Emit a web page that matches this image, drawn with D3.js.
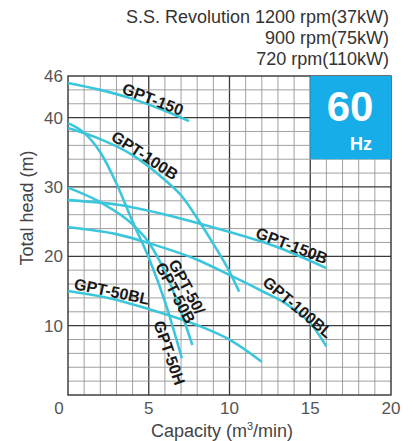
<!DOCTYPE html>
<html><head><meta charset="utf-8">
<script src="https://cdn.jsdelivr.net/npm/d3@7"></script>
<style>body{margin:0;background:#fff}svg{display:block}text{font-family:"Liberation Sans",Arial,sans-serif}</style>
</head><body><svg id="c" width="413" height="441"></svg>
<script>
const titleLines = ["S.S. Revolution 1200 rpm(37kW)", "900 rpm(75kW)", "720 rpm(110kW)"];
const yTicks = [46, 40, 30, 20, 10];
const xTicks = [5, 10, 15, 20];
const seriesNames = ["GPT-150", "GPT-100B", "GPT-150B", "GPT-100BL", "GPT-50BL", "GPT-50/50B", "GPT-50H"];
const gpt150 = [[0,45],[2,44],[4,42.7],[6,41],[7.5,39.5]];
const gpt100B = [[0,38.5],[2,36.9],[4,34.6],[6,31],[7,28.8],[8,25.5],[9,21.8],[10,17.8],[10.6,14.9]];
const gpt150B = [[0,28.1],[3.2,27.4],[6.9,25.5],[9.4,23.9],[13.1,21.2],[16,18.3]];
const gpt100BL = [[0,24.2],[3,23.2],[5,21.9],[8,19.5],[10,17.3],[12,15],[13.6,13],[15.2,9.8],[16,7]];
const gpt50BL = [[0,15],[2.5,14],[5,12.4],[8.2,9.9],[10,8],[12,4.8]];
const gpt50 = [[0,29.9],[2,27.8],[4,24.6],[5,22],[6,17.8],[7,12],[7.7,7.2]];
const gpt50H = [[0,39.2],[1,37.8],[2,35],[3,30.5],[4,25],[5,19.8],[6,13.5],[7.05,5.3]];
const series = [gpt150, gpt100B, gpt150B, gpt100BL, gpt50BL, gpt50, gpt50H];
const labels = [
  {t:["GPT-150"], x:5.26, y:42.7, r:21},
  {t:["GPT-100B"], x:4.77, y:34.6, r:33},
  {t:["GPT-150B"], x:13.87, y:21.6, r:21},
  {t:["GPT-100BL"], x:14.24, y:12.7, r:40},
  {t:["GPT-50BL"], x:2.72, y:15.0, r:12},
  {t:["GPT-50/","GPT-50B"], x:7.0, y:15.15, r:62},
  {t:["GPT-50H"], x:6.3, y:6.1, r:71}
];
const hzBox = {x0:15, x1:20, y0:34, y1:46};

const svg = d3.select("#c");
const m = {l:68, r:391, t:76, b:395};
const x = d3.scaleLinear().domain([0,20]).range([m.l, m.r]);
const y = d3.scaleLinear().domain([0,46]).range([m.b, m.t]);

// grid
const g = svg.append("g");
d3.range(1,20).forEach(v => {
  g.append("line").attr("x1",x(v)).attr("x2",x(v)).attr("y1",y(0)).attr("y2",y(46))
   .attr("stroke", v%5===0 ? "#3a3a3a" : "#969696").attr("stroke-width", v%5===0?1.3:0.9);
});
d3.range(2,46,2).forEach(v => {
  g.append("line").attr("y1",y(v)).attr("y2",y(v)).attr("x1",x(0)).attr("x2",x(20))
   .attr("stroke", v%10===0 ? "#3a3a3a" : "#969696").attr("stroke-width", v%10===0?1.3:0.9);
});
g.append("rect").attr("x",x(0)).attr("y",y(46)).attr("width",x(20)-x(0)).attr("height",y(0)-y(46))
 .attr("fill","none").attr("stroke","#333").attr("stroke-width",1.4);

// Hz box
svg.append("rect").attr("x",x(hzBox.x0)).attr("y",y(hzBox.y1)).attr("width",x(hzBox.x1)-x(hzBox.x0))
 .attr("height",y(hzBox.y0)-y(hzBox.y1)).attr("fill","#17ade8");
svg.append("text").attr("x",350).attr("y",121).attr("text-anchor","middle")
 .attr("fill","#fff").attr("font-size",42).attr("font-weight","bold").text("60");
svg.append("text").attr("x",361).attr("y",150).attr("text-anchor","middle")
 .attr("fill","#fff").attr("font-size",18).attr("font-weight","bold").text("Hz");

// curves
const line = d3.line().x(d=>x(d[0])).y(d=>y(d[1])).curve(d3.curveMonotoneX);
series.forEach(s => {
  svg.append("path").attr("d", line(s)).attr("fill","none").attr("stroke","#3cc6dc").attr("stroke-width",2.6);
});

// curve labels
labels.forEach(l => {
  const t = svg.append("text").attr("transform",`translate(${x(l.x)},${y(l.y)}) rotate(${l.r})`)
    .attr("text-anchor","middle").attr("font-size",16).attr("font-weight","bold").attr("fill","#1a1a1a");
  l.t.forEach((s,i) => t.append("tspan").attr("x",0).attr("dy", i===0 ? (l.t.length>1?-1:6) : 13).text(s));
});

// axes ticks
svg.selectAll(".yt").data(yTicks).enter().append("text").attr("x",63).attr("y",d=>y(d)+6)
 .attr("text-anchor","end").attr("font-size",17).attr("fill","#555").text(d=>d);
svg.append("text").attr("x",59).attr("y",414).attr("text-anchor","middle").attr("font-size",17).attr("fill","#555").text("0");
svg.selectAll(".xt").data(xTicks).enter().append("text").attr("x",d=>x(d)).attr("y",414)
 .attr("text-anchor","middle").attr("font-size",17).attr("fill","#555").text(d=>d);

// axis titles
svg.append("text").attr("transform","translate(33,208) rotate(-90)").attr("text-anchor","middle")
 .attr("font-size",18).attr("fill","#444").text("Total head (m)");
const xt = svg.append("text").attr("x",222).attr("y",437).attr("text-anchor","middle").attr("font-size",18).attr("fill","#444");
xt.append("tspan").text("Capacity (m");
xt.append("tspan").attr("dy",-7).attr("font-size",11).text("3");
xt.append("tspan").attr("dy",7).text("/min)");

// title
titleLines.forEach((s,i) => svg.append("text").attr("x",389).attr("y",23+i*21).attr("text-anchor","end")
 .attr("font-size",18).attr("fill","#333").text(s));
</script></body></html>
